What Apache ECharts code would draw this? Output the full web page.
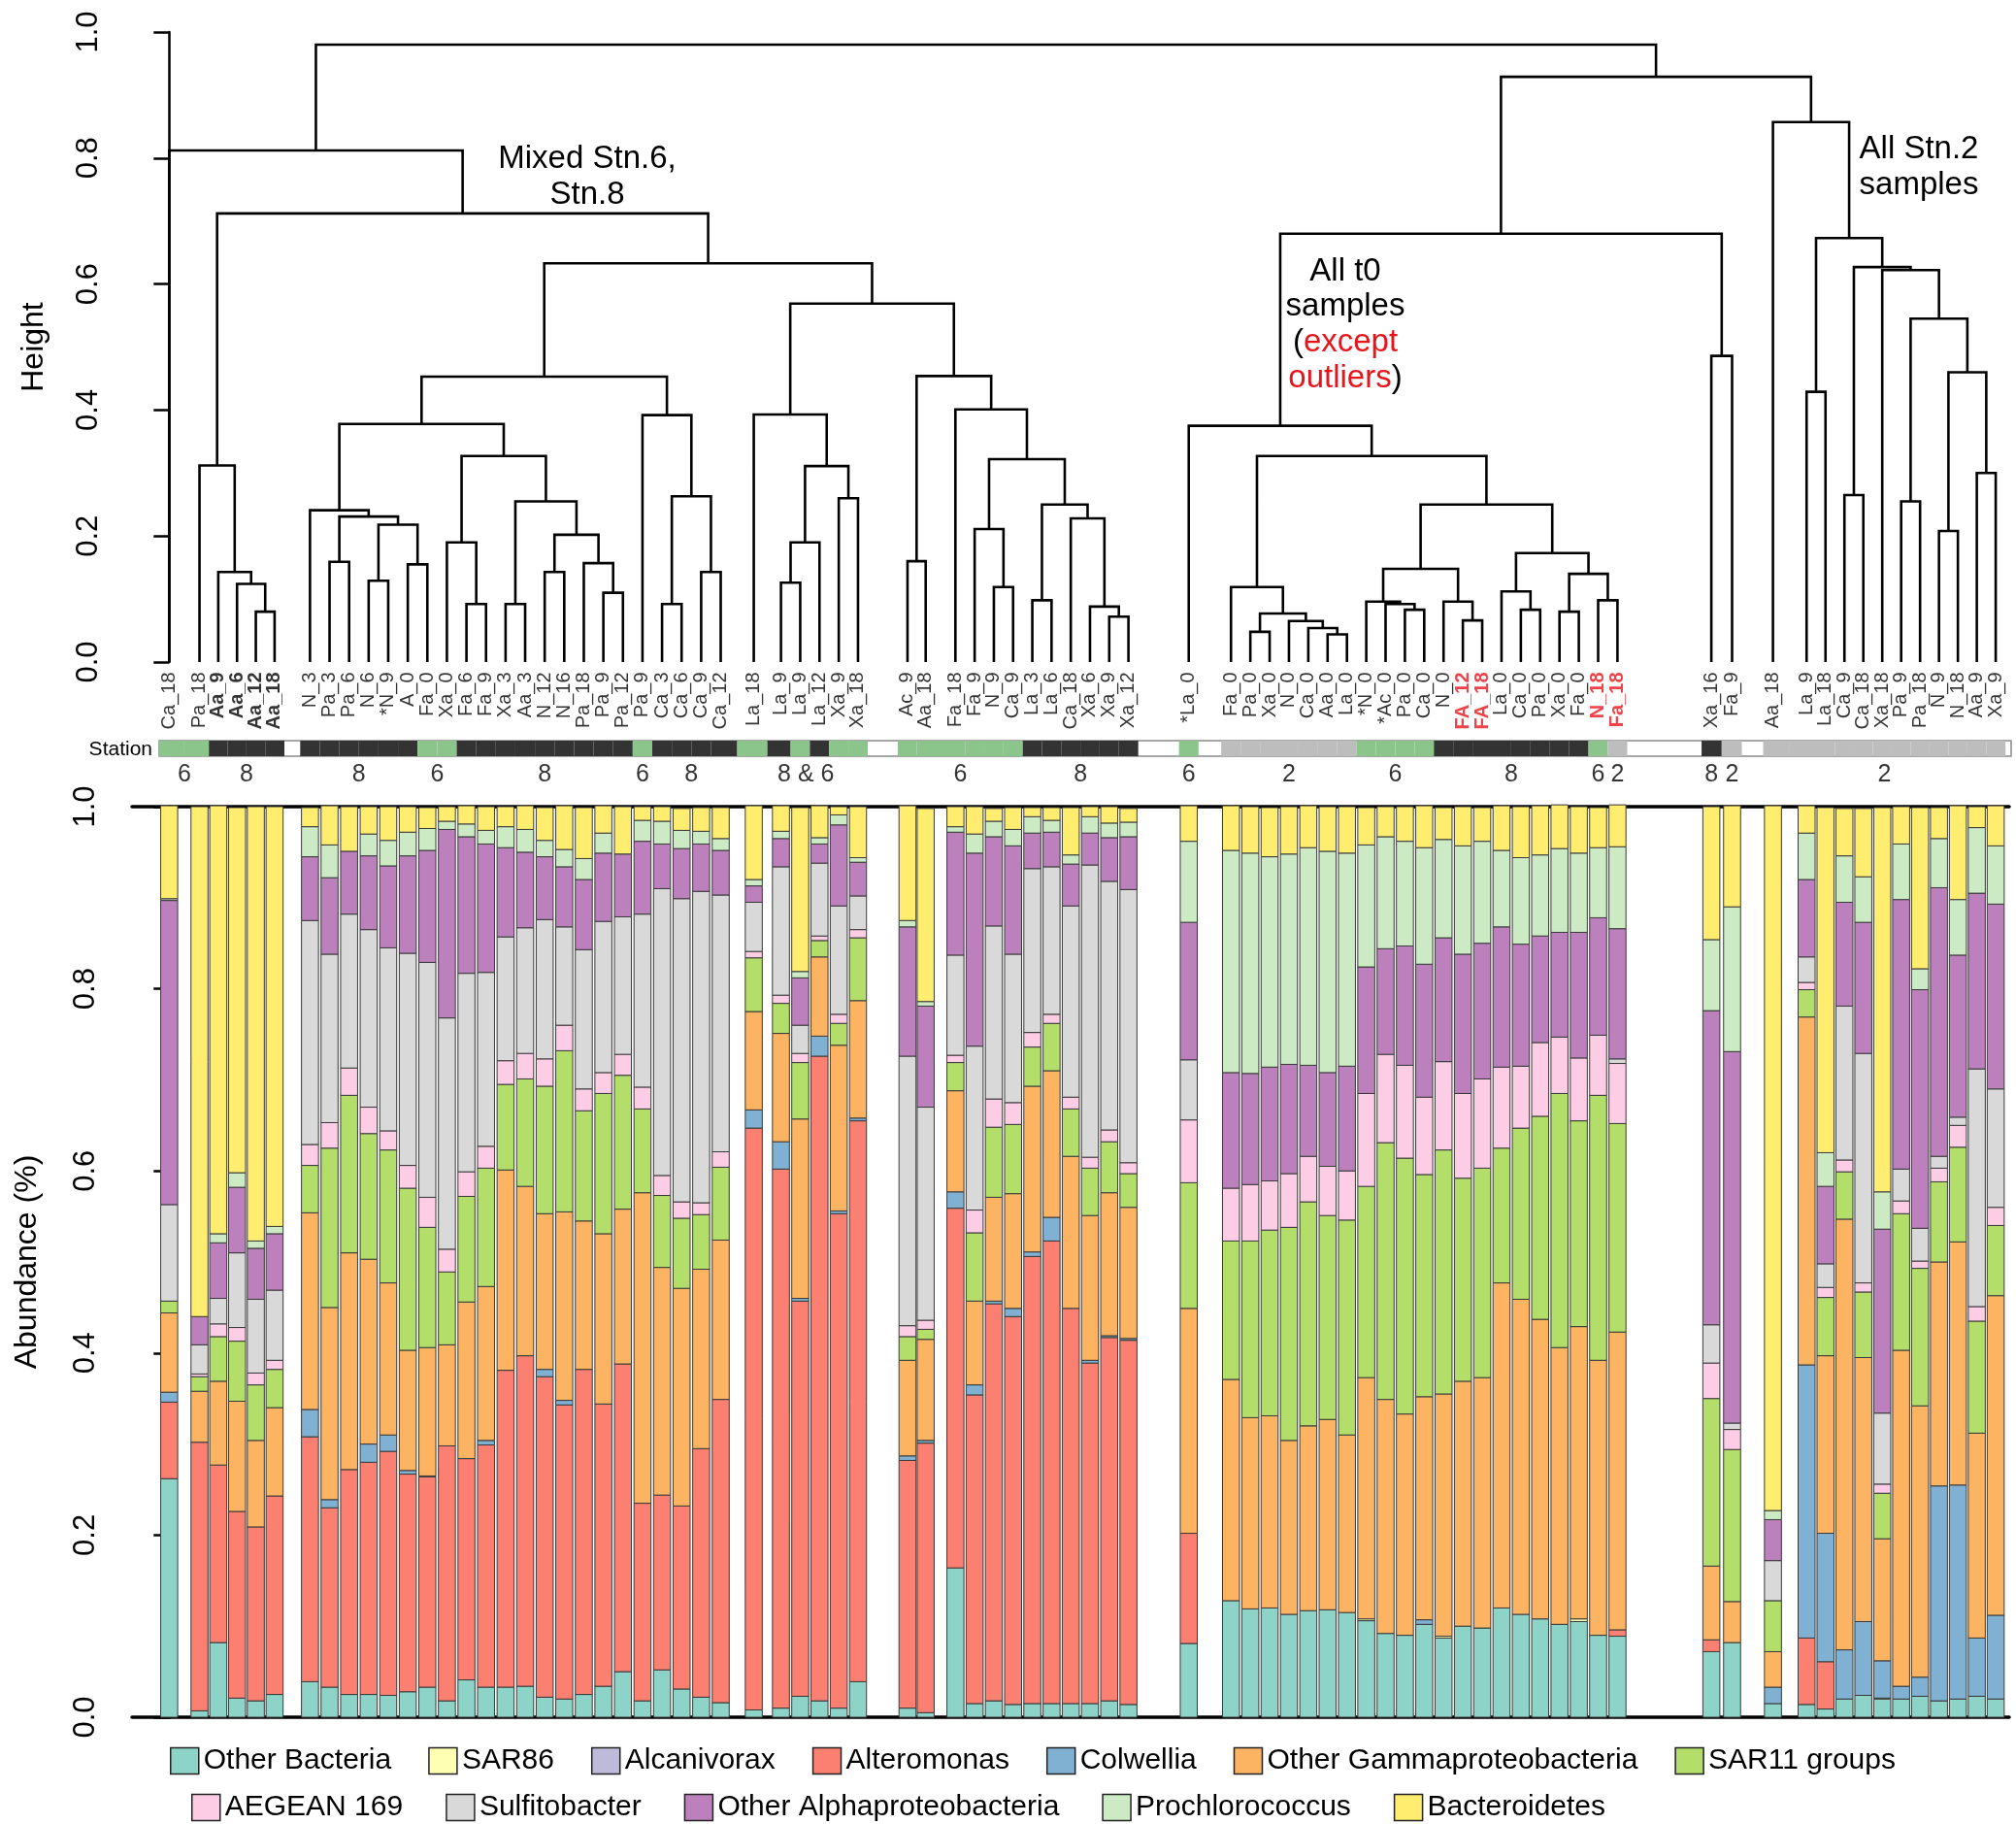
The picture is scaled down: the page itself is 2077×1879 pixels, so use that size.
<!DOCTYPE html>
<html><head><meta charset="utf-8">
<script src="https://cdn.jsdelivr.net/npm/echarts@6/dist/echarts.min.js"></script>
<style>html,body{margin:0;padding:0;background:#fff;}#c{width:2077px;height:1879px;}</style>
</head><body><div id="c"></div>
<script>
// ---------------- DATA ----------------
const samples = ['Ca_18','Pa_18','Aa_9','Aa_6','Aa_12','Aa_18',
'N_3','Pa_3','Pa_6','N_6','*N_9','A_0','Fa_0','Xa_0','Fa_6','Fa_9','Xa_3','Aa_3','N_12','N_16','Pa_18','Pa_9','Pa_12','Pa_9','Ca_3','Ca_6','Ca_9','Ca_12',
'La_18','La_9','La_9','La_12','Xa_9','Xa_18',
'Ac_9','Aa_18','Fa_18','Fa_9','N_9','Ca_9','La_3','La_6','Ca_18','Xa_6','Xa_9','Xa_12',
'*La_0',
'Fa_0','Pa_0','Xa_0','N_0','Ca_0','Aa_0','La_0','*N_0','*Ac_0','Pa_0','Ca_0','N_0','FA_12','FA_18','La_0','Ca_0','Pa_0','Xa_0','Fa_0','N_18','Fa_18',
'Xa_16','Fa_9',
'Aa_18','La_9','La_18','Ca_9','Ca_18','Xa_18','Pa_9','Pa_18','N_9','N_18','Aa_9','Xa_9'];

const stations = [6,6,8,8,8,8,
8,8,8,8,8,8,6,6,8,8,8,8,8,8,8,8,8,6,8,8,8,8,
6,8,6,8,6,6,
6,6,6,6,6,6,8,8,8,8,8,8,
6,
2,2,2,2,2,2,2,6,6,6,6,8,8,8,8,8,8,8,8,6,2,
8,2,
2,2,2,2,2,2,2,2,2,2,2,2];

const stationLabels = [['6',0,1],['8',2,5],['8',6,11],['6',12,13],['8',14,22],['6',23,23],['8',24,27],
['8 & 6',28,33],['6',34,39],['8',40,45],['6',46,46],['2',47,53],['6',54,57],['8',58,65],['6',66,66],['2',67,67],
['8',68,68],['2',69,69],['2',70,81]];

const categories = ['Other Bacteria','SAR86','Alcanivorax','Alteromonas','Colwellia','Other Gammaproteobacteria',
'SAR11 groups','AEGEAN 169','Sulfitobacter','Other Alphaproteobacteria','Prochlorococcus','Bacteroidetes'];

const otherBacteria = [
0.262,0.007,0.082,0.021,0.018,0.025,
0.039,0.033,0.025,0.025,0.024,0.028,0.033,0.018,0.041,0.033,0.033,0.034,0.022,0.020,0.025,0.034,0.050,0.018,0.052,0.031,0.022,0.016,
0.008,0.010,0.023,0.018,0.010,0.039,
0.010,0.005,0.164,0.015,0.018,0.014,0.015,0.015,0.015,0.015,0.018,0.014,
0.081,
0.128,0.119,0.120,0.113,0.117,0.118,0.115,0.106,0.092,0.090,0.102,0.087,0.100,0.098,0.120,0.113,0.108,0.102,0.105,0.090,0.089,
0.072,0.082,
0.015,0.014,0.009,0.020,0.024,0.020,0.020,0.023,0.018,0.020,0.023,0.020];
const sar86 = [
0,0,0,0,0,0,
0,0,0,0,0,0,0,0,0,0,0,0,0,0,0,0,0,0,0,0,0,0,
0,0,0,0,0,0,
0,0,0,0,0,0,0,0,0,0,0,0,
0,
0,0,0,0,0,0,0,0.002,0,0,0,0.002,0,0,0,0,0,0,0.003,0,0,
0,0,
0,0,0,0,0,0.001,0,0,0,0,0,0];
const alcanivorax = [
0,0,0,0,0,0,
0,0,0,0,0,0,0,0,0,0,0,0,0,0,0,0,0,0,0,0,0,0,
0,0,0,0,0,0,
0,0,0,0,0,0,0,0,0,0,0,0,
0,
0,0,0,0,0,0,0,0,0,0,0,0,0,0,0,0,0,0,0,0,0,
0,0,
0,0,0,0,0,0,0,0,0,0,0,0];
const alteromonas = [
0.084,0.295,0.195,0.205,0.191,0.218,
0.269,0.197,0.247,0.255,0.268,0.239,0.231,0.280,0.243,0.266,0.348,0.363,0.352,0.323,0.357,0.310,0.338,0.217,0.192,0.201,0.273,0.333,
0.639,0.592,0.434,0.708,0.543,0.616,
0.272,0.296,0.395,0.339,0.436,0.426,0.491,0.508,0.434,0.374,0.399,0.400,
0.121,
0,0,0,0,0,0,0,0,0,0,0,0,0,0,0,0,0,0,0,0,0.007,
0.013,0,
0,0.073,0.052,0,0,0,0,0,0,0,0,0];
const colwellia = [
0.011,0,0,0,0,0,
0.030,0.009,0,0.020,0.018,0.004,0.001,0,0,0.005,0,0,0.008,0.005,0,0,0,0,0,0,0,0,
0.020,0.030,0.003,0.022,0.003,0.003,
0.005,0.003,0.018,0.011,0.003,0.009,0.005,0.026,0,0.003,0.002,0.002,
0,
0,0,0,0,0,0,0,0,0,0,0.005,0,0,0,0,0,0,0,0,0,0,
0,0,
0.018,0.300,0.141,0.054,0.081,0.041,0.014,0.021,0.236,0.235,0.064,0.092];
const otherGamma = [
0.087,0.056,0.092,0.121,0.095,0.097,
0.216,0.211,0.238,0.203,0.167,0.132,0.141,0.111,0.172,0.169,0.220,0.186,0.171,0.207,0.163,0.187,0.170,0.341,0.250,0.239,0.197,0.175,
0.108,0.119,0.197,0.087,0.182,0.129,
0.105,0.111,0.111,0.092,0.114,0.126,0.182,0.161,0.167,0.159,0.157,0.144,
0.247,
0.243,0.210,0.211,0.191,0.203,0.209,0.195,0.265,0.257,0.243,0.245,0.266,0.269,0.275,0.357,0.346,0.329,0.304,0.321,0.302,0.327,
0.081,0.045,
0.039,0.382,0.195,0.473,0.290,0.134,0.369,0.298,0.246,0.267,0.225,0.351];
const sar11 = [
0.013,0.016,0.049,0.066,0.061,0.042,
0.052,0.175,0.173,0.138,0.146,0.178,0.132,0.080,0.116,0.130,0.094,0.118,0.140,0.177,0.121,0.154,0.147,0.092,0.079,0.077,0.060,0.080,
0.059,0.033,0.062,0.018,0.024,0.069,
0.026,0.011,0.031,0.075,0.077,0.076,0.043,0.052,0.052,0.052,0.056,0.037,
0.138,
0.152,0.194,0.204,0.234,0.246,0.224,0.236,0.210,0.282,0.281,0.244,0.268,0.223,0.230,0.148,0.188,0.223,0.279,0.226,0.291,0.229,
0.184,0.167,
0.056,0.030,0.064,0.052,0.072,0.050,0.150,0.151,0.088,0.104,0.123,0.077];
const aegean = [
0,0.003,0.014,0.015,0.013,0.010,
0.023,0.028,0.030,0.029,0.021,0.025,0.033,0.025,0.027,0.024,0.026,0.028,0.030,0.028,0.024,0.023,0.023,0.024,0.022,0.018,0.013,0.017,
0.007,0.009,0.010,0.005,0.010,0.009,
0.012,0.010,0.008,0.025,0.031,0.024,0.016,0.010,0.013,0.012,0.013,0.012,
0.069,
0.058,0.062,0.054,0.059,0.050,0.054,0.054,0.102,0.097,0.102,0.085,0.097,0.093,0.098,0.089,0.068,0.081,0.062,0.069,0.066,0.066,
0.039,0.022,
0,0.008,0.011,0.013,0.010,0.010,0.014,0.008,0.015,0.024,0.016,0.020];
const sulfitobacter = [
0.106,0.032,0.028,0.082,0.081,0.077,
0.246,0.185,0.169,0.195,0.201,0.233,0.258,0.254,0.218,0.191,0.136,0.138,0.153,0.108,0.153,0.166,0.151,0.190,0.315,0.333,0.342,0.282,
0.054,0.141,0.031,0.080,0.119,0.037,
0.296,0.234,0.110,0.180,0.190,0.163,0.180,0.162,0.210,0.321,0.273,0.300,
0.066,
0,0,0,0,0,0,0,0,0,0,0,0,0,0,0,0,0,0,0,0,0.005,
0.042,0.007,
0.044,0.028,0.026,0.169,0.252,0.078,0.035,0.036,0.013,0.009,0.261,0.130];
const otherAlpha = [
0.334,0.031,0.061,0.072,0.056,0.062,
0.070,0.084,0.069,0.081,0.090,0.107,0.123,0.207,0.150,0.141,0.098,0.083,0.069,0.066,0.077,0.075,0.069,0.080,0.049,0.055,0.052,0.049,
0.018,0.031,0.052,0.021,0.089,0.037,
0.142,0.111,0.135,0.212,0.098,0.119,0.039,0.038,0.046,0.035,0.048,0.058,
0.151,
0.127,0.122,0.125,0.120,0.100,0.103,0.115,0.139,0.116,0.131,0.146,0.136,0.153,0.149,0.154,0.134,0.117,0.115,0.138,0.129,0.143,
0.345,0.408,
0.045,0.085,0.085,0.114,0.144,0.202,0.296,0.262,0.295,0.178,0.193,0.203];
const prochlorococcus = [
0.002,0,0.010,0.016,0.008,0.008,
0.033,0.036,0,0.024,0.028,0.026,0.024,0.009,0.014,0.015,0.023,0.025,0.018,0.019,0.023,0.022,0,0.023,0.025,0.020,0.014,0.013,
0.007,0.008,0.007,0.007,0.011,0.005,
0.007,0.005,0.006,0.021,0.017,0.018,0.018,0.013,0.010,0.018,0.016,0.016,
0.089,
0.244,0.242,0.231,0.231,0.239,0.243,0.234,0.134,0.123,0.115,0.128,0.108,0.119,0.112,0.084,0.095,0.089,0.092,0.087,0.077,0.090,
0.078,0.159,
0.010,0.051,0.037,0.051,0.050,0.041,0.061,0.023,0.054,0.061,0.072,0.064];
const bacteroidetes = [
0.102,0.560,0.470,0.401,0.477,0.461,
0.021,0.043,0.049,0.030,0.037,0.028,0.023,0.016,0.020,0.026,0.022,0.026,0.036,0.048,0.056,0.030,0.052,0.015,0.016,0.024,0.026,0.034,
0.081,0.028,0.180,0.035,0.009,0.056,
0.126,0.212,0.022,0.030,0.014,0.024,0.010,0.014,0.052,0.011,0.018,0.015,
0.039,
0.049,0.051,0.054,0.052,0.046,0.049,0.051,0.041,0.033,0.038,0.046,0.035,0.043,0.037,0.049,0.056,0.054,0.048,0.051,0.044,0.046,
0.146,0.111,
0.774,0.030,0.379,0.052,0.075,0.422,0.041,0.177,0.034,0.103,0.023,0.044];

// Dendrogram: [left, right, height]; integers are leaf indices
const treeAa = [1, [2, [3, [4, 5, 0.08], 0.124], 0.143], 0.312];
const treeG = [6, [[7, 8, 0.159], [[9, 10, 0.129], [11, 12, 0.155], 0.218], 0.231], 0.241];
const treeH = [[13, [14, 15, 0.092], 0.19], [[16, 17, 0.092], [[18, 19, 0.143], [20, [21, 22, 0.11], 0.157], 0.202], 0.255], 0.327];
const treeCa = [23, [[24, 25, 0.092], [26, 27, 0.143], 0.263], 0.392];
const treeLa = [28, [[[29, 30, 0.126], 31, 0.19], [32, 33, 0.26], 0.311], 0.393];
const treeAc = [[34, 35, 0.16], [36, [[37, [38, 39, 0.119], 0.211], [[40, 41, 0.098], [42, [43, [44, 45, 0.072], 0.088], 0.228], 0.25], 0.322], 0.401], 0.454];
const treeT0 = [46, [[47, [[48, 49, 0.048], [50, [51, [52, 53, 0.044], 0.054], 0.065], 0.077], 0.119],
  [[[54, [55, [56, 57, 0.083], 0.092], 0.096], [58, [59, 60, 0.066], 0.096], 0.148],
   [[61, [62, 63, 0.083], 0.112], [[64, 65, 0.08], [66, 67, 0.098], 0.14], 0.173], 0.25], 0.327], 0.375];
const treeXF = [68, 69, 0.486];
const treeStn2 = [70, [[71, 72, 0.429], [[73, 74, 0.265], [75, [[76, 77, 0.255], [[78, 79, 0.208], [80, 81, 0.30], 0.46], 0.545], 0.622], 0.627], 0.673], 0.857];
const treeRoot = [[0, [treeAa, [[[treeG, treeH, 0.378], treeCa, 0.453], [treeLa, treeAc, 0.569], 0.633], 0.712], 0.812],
  [[treeT0, treeXF, 0.68], treeStn2, 0.929], 0.98];

// ---------------- LAYOUT / STYLE ----------------
const F = "'Liberation Sans', Arial, Helvetica, sans-serif";
const palette = ['#8dd3c7','#ffffb3','#bebada','#fb8072','#80b1d3','#fdb462','#b3de69','#fccde5','#d9d9d9','#bc80bd','#ccebc5','#ffed6f'];
const stationColors = {6:'#8cc58c', 8:'#333333', 2:'#bdbdbd'};
const RED = '#e8141c';
const redLabels = [59, 60, 66, 67];
const boldLabels = [2, 3, 4, 5];
// groups of bars: [count, start slot, pitch]
const barLayout = [[1,0,1],[5,1.55,0.96],[22,7.2,1.0],[1,29.89,1],[5,31.28,0.985],[2,37.75,0.93],[10,40.2,0.983],[1,52.13,1],[21,54.29,0.988],[2,78.85,1.06],[1,82.0,1],[11,83.72,0.967]];
const PX0 = 174.3, PXU = 20.15, BARW = 17.5;
const u = px => (px - PX0) / PXU;

const pos = [];
barLayout.forEach(([n, s, p]) => { for (let k = 0; k < n; k++) pos.push(s + k * p); });

// dendrogram segments
const segs = [];
function lay(node) {
  if (typeof node === 'number') return { x: pos[node], h: 0 };
  const a = lay(node[0]), b = lay(node[1]), h = node[2];
  segs.push([[a.x, a.h], [a.x, h], [b.x, h], [b.x, b.h]]);
  return { x: (a.x + b.x) / 2, h };
}
lay(treeRoot);

const cells = pos.map((p, i) => {
  const l = (i > 0 && p - pos[i - 1] < 1.8) ? (p + pos[i - 1]) / 2 : p - 0.5;
  const r = (i < pos.length - 1 && pos[i + 1] - p < 1.8) ? (p + pos[i + 1]) / 2 : p + 0.5;
  return [l, r, stations[i]];
});

const seriesVals = [otherBacteria, sar86, alcanivorax, alteromonas, colwellia, otherGamma, sar11, aegean, sulfitobacter, otherAlpha, prochlorococcus, bacteroidetes];

// stacked extents for each segment: [x, bottom, top]
const base = pos.map(() => 0);
const stackedData = seriesVals.map(vals => pos.map((p, i) => {
  const b = base[i];
  base[i] += vals[i];
  return [p, b, base[i]];
}));

const barSeries = seriesVals.map((vals, k) => ({
  name: categories[k], type: 'custom', xAxisIndex: 2, yAxisIndex: 2, silent: true,
  itemStyle: { color: palette[k] },
  renderItem: (params, api) => {
    const x = api.value(0), y0 = api.value(1), y1 = api.value(2);
    if (!(y1 - y0 > 0)) return null;
    const a = api.coord([x, y1]), b = api.coord([x, y0]);
    return { type: 'rect', shape: { x: a[0] - BARW / 2, y: a[1], width: BARW, height: b[1] - a[1] },
      style: { fill: palette[k], stroke: '#3a3a3a', lineWidth: 1 } };
  },
  data: stackedData[k]
}));

const tickFmt = v => v.toFixed(1);

const option = {
  animation: false,
  backgroundColor: '#fff',
  textStyle: { fontFamily: F },
  grid: [
    { left: 143, top: 33, width: 1927, height: 649 },
    { left: 164, top: 763, width: 1908, height: 16, show: true, borderColor: '#8a8a8a', borderWidth: 1.5, backgroundColor: 'rgba(0,0,0,0)' },
    { left: 136, top: 831, width: 1934, height: 938 }
  ],
  xAxis: [
    { gridIndex: 0, type: 'value', min: u(143), max: u(2070), show: false },
    { gridIndex: 1, type: 'value', min: u(164), max: u(2072), show: false },
    { gridIndex: 2, type: 'value', min: u(136), max: u(2070), axisLine: { show: true, onZero: false, lineStyle: { color: '#000', width: 3.5 } },
      axisTick: { show: false }, axisLabel: { show: false }, splitLine: { show: false } },
    { gridIndex: 2, type: 'value', position: 'top', min: u(136), max: u(2070), axisLine: { show: true, onZero: false, lineStyle: { color: '#000', width: 3.5 } },
      axisTick: { show: false }, axisLabel: { show: false }, splitLine: { show: false } }
  ],
  yAxis: [
    { gridIndex: 0, type: 'value', min: 0, max: 1, interval: 0.2,
      axisLine: { show: true, lineStyle: { color: '#000', width: 2.5 } },
      axisTick: { show: true, length: 16, lineStyle: { color: '#000', width: 2.5 } },
      axisLabel: { rotate: 90, margin: 36, fontSize: 31, color: '#000', fontFamily: F, formatter: tickFmt },
      splitLine: { show: false },
      name: 'Height', nameLocation: 'middle', nameRotate: 90, nameGap: 92, nameTextStyle: { fontSize: 32, color: '#000', fontFamily: F } },
    { gridIndex: 1, type: 'value', min: 0, max: 1, show: false },
    { gridIndex: 2, type: 'value', min: 0, max: 1, interval: 0.2,
      axisLine: { show: true, lineStyle: { color: '#000', width: 3.5 } },
      axisTick: { show: true, length: 16, lineStyle: { color: '#000', width: 2.5 } },
      axisLabel: { rotate: 90, margin: 32, fontSize: 31, color: '#000', fontFamily: F, formatter: tickFmt },
      splitLine: { show: false },
      name: 'Abundance (%)', nameLocation: 'middle', nameRotate: 90, nameGap: 92, nameTextStyle: { fontSize: 32, color: '#000', fontFamily: F } }
  ],
  legend: [
    { data: categories.slice(0, 7), left: 170, top: 1794, itemWidth: 29, itemHeight: 27, itemGap: 38, icon: 'rect', selectedMode: false,
      itemStyle: { borderColor: '#222', borderWidth: 1.5 }, textStyle: { fontSize: 30, color: '#000', fontFamily: F } },
    { data: categories.slice(7), left: 192, top: 1842, itemWidth: 29, itemHeight: 27, itemGap: 44, icon: 'rect', selectedMode: false,
      itemStyle: { borderColor: '#222', borderWidth: 1.5 }, textStyle: { fontSize: 30, color: '#000', fontFamily: F } }
  ],
  graphic: [
    { type: 'text', x: 605, y: 164, style: { text: 'Mixed Stn.6,', fontSize: 33, fontFamily: F, fill: '#000', align: 'center', verticalAlign: 'middle' } },
    { type: 'text', x: 605, y: 201, style: { text: 'Stn.8', fontSize: 33, fontFamily: F, fill: '#000', align: 'center', verticalAlign: 'middle' } },
    { type: 'text', x: 1386, y: 280, style: { text: 'All t0', fontSize: 33, fontFamily: F, fill: '#000', align: 'center', verticalAlign: 'middle' } },
    { type: 'text', x: 1386, y: 316, style: { text: 'samples', fontSize: 33, fontFamily: F, fill: '#000', align: 'center', verticalAlign: 'middle' } },
    { type: 'text', x: 1386, y: 353, style: { text: '{k|(}{r|except}', fontSize: 33, fontFamily: F, align: 'center', verticalAlign: 'middle',
      rich: { k: { fill: '#000', fontSize: 33, fontFamily: F }, r: { fill: RED, fontSize: 33, fontFamily: F } } } },
    { type: 'text', x: 1386, y: 390, style: { text: '{r|outliers}{k|)}', fontSize: 33, fontFamily: F, align: 'center', verticalAlign: 'middle',
      rich: { k: { fill: '#000', fontSize: 33, fontFamily: F }, r: { fill: RED, fontSize: 33, fontFamily: F } } } },
    { type: 'text', x: 1977, y: 154, style: { text: 'All Stn.2', fontSize: 33, fontFamily: F, fill: '#000', align: 'center', verticalAlign: 'middle' } },
    { type: 'text', x: 1977, y: 191, style: { text: 'samples', fontSize: 33, fontFamily: F, fill: '#000', align: 'center', verticalAlign: 'middle' } },
    { type: 'text', x: 157, y: 772, style: { text: 'Station', fontSize: 21, fontFamily: F, fill: '#000', align: 'right', verticalAlign: 'middle' } }
  ],
  series: [
    { type: 'lines', coordinateSystem: 'cartesian2d', xAxisIndex: 0, yAxisIndex: 0, polyline: true, silent: true,
      lineStyle: { color: '#000', width: 2.6, opacity: 1 },
      data: segs.map(c => ({ coords: c })) },
    { type: 'scatter', xAxisIndex: 0, yAxisIndex: 0, symbolSize: 1, silent: true, clip: false,
      itemStyle: { color: 'rgba(0,0,0,0)' },
      label: { show: true, formatter: '{b}', position: 'bottom', distance: 10, rotate: 90, align: 'right', verticalAlign: 'middle',
        fontSize: 20, color: '#000', fontFamily: F },
      data: samples.map((s, i) => {
        const d = { name: s, value: [pos[i], 0] };
        if (redLabels.includes(i)) d.label = { color: RED, fontWeight: 'bold' };
        else if (boldLabels.includes(i)) d.label = { fontWeight: 'bold' };
        return d;
      }) },
    { type: 'custom', xAxisIndex: 1, yAxisIndex: 1, silent: true,
      renderItem: (params, api) => {
        const p0 = api.coord([api.value(0), 1]);
        const p1 = api.coord([api.value(1), 0]);
        return { type: 'rect', shape: { x: p0[0], y: p0[1], width: p1[0] - p0[0], height: p1[1] - p0[1] },
          style: { fill: stationColors[api.value(2)] } };
      },
      data: cells },
    { type: 'scatter', xAxisIndex: 1, yAxisIndex: 1, symbolSize: 1, silent: true, clip: false,
      itemStyle: { color: 'rgba(0,0,0,0)' },
      label: { show: true, formatter: '{b}', position: 'bottom', distance: 6, fontSize: 25, color: '#000', fontFamily: F },
      data: stationLabels.map(([t, a, b]) => ({ name: t, value: [(pos[a] + pos[b]) / 2, 0] })) },
    ...barSeries
  ]
};

const chart = echarts.init(document.getElementById('c'));
chart.setOption(option);
</script>
</body></html>
